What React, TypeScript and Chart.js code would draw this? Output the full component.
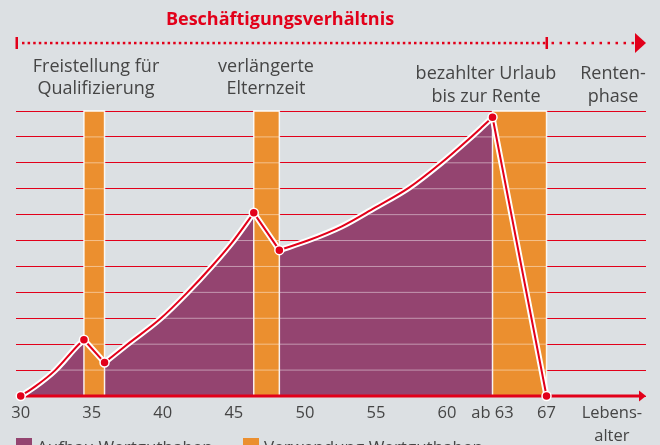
import React, { useEffect, useRef } from "react";
import { Chart, registerables } from "chart.js";

Chart.register(...registerables);

// ---------- data ----------
const title = "Beschäftigungsverhältnis";
const seriesNames = ["Aufbau Wertguthaben", "Verwendung Wertguthaben"];

// build-up phases of the credit (age, value in grid units)
const build1Ages = [30, 31.0, 32.4, 34.05, 34.45];
const build1Values = [0, 0.36, 0.98, 1.97, 2.17];
const build2Ages = [35.9, 37.45, 39.8, 41.7, 43.4, 44.95, 46.4];
const build2Values = [1.29, 1.97, 2.97, 3.98, 4.98, 5.98, 7.07];
const build3Ages = [48.2, 50.2, 52.6, 54.9, 57.3, 59.6, 61.5, 62.4, 63.2];
const build3Values = [5.63, 6.0, 6.55, 7.26, 8.03, 9.0, 9.9, 10.35, 10.76];
// payout to retirement
const retireAge = 67;
const retireValue = 0;

// periods of using the credit (orange columns)
const useStarts = [34.45, 46.4, 63.2];
const useEnds = [35.9, 48.2, 67];
const useTop = 11;

// x axis
const tickAges = [30, 35, 40, 45, 50, 55, 60, 63.2, 67, 71.6];
const tickLabels: (string | string[])[] = ["30", "35", "40", "45", "50", "55", "60", "ab 63", "67", ["Lebens-", "alter"]];
const employmentEndAge = 67;

// phase annotations
const phaseLabels = [
  ["Freistellung für", "Qualifizierung"],
  ["verlängerte", "Elternzeit"],
  ["bezahlter Urlaub", "bis zur Rente"],
  ["Renten-", "phase"],
];

// ---------- styles ----------
const RED = "#e2001a";
const PURPLE = "#944470";
const ORANGE = "#eb8f2f";
const BG = "#dce0e3";
const TEXT = "#454545";
const LIGHT = "rgba(255,255,255,0.45)";
const FONT = "'Open Sans', 'Noto Sans', sans-serif";
const PHASE_X = [96, 266, 486, 613];
const PHASE_Y = [[67, 89], [67, 89], [74, 97], [74, 97]];

const pts = (ages: number[], vals: number[]) => ages.map((a, i) => ({ x: a, y: vals[i] }));
const builds = [pts(build1Ages, build1Values), pts(build2Ages, build2Values), pts(build3Ages, build3Values)];
const first = (d: any[]) => d[0];
const last = (d: any[]) => d[d.length - 1];
const gap = (p: any) => ({ x: p.x, y: null });
// connectors between phases (straight drops while the credit is used) + markers
const connectorData: any[] = [
  first(builds[0]),
  gap(first(builds[0])),
  last(builds[0]),
  first(builds[1]),
  gap(first(builds[1])),
  last(builds[1]),
  first(builds[2]),
  gap(first(builds[2])),
  last(builds[2]),
  { x: retireAge, y: retireValue },
];

// where a rising build-up curve first reaches a grid level
function crossing(d: { x: number; y: number }[], v: number) {
  if (d[0].y >= v) return d[0].x;
  for (let i = 0; i < d.length - 1; i++) {
    if (d[i].y < v && d[i + 1].y >= v) return d[i].x + ((v - d[i].y) / (d[i + 1].y - d[i].y)) * (d[i + 1].x - d[i].x);
  }
  return null;
}

// the grid lines seen through the coloured areas, as gap-separated spans per grid level
function lightGridData(v: number) {
  const spans: number[][] = [];
  builds.forEach((d) => {
    const c = crossing(d, v);
    if (c !== null) spans.push([c, last(d).x]);
  });
  useStarts.forEach((s, i) => spans.push([s, useEnds[i]]));
  spans.sort((m, n) => m[0] - n[0]);
  const merged: number[][] = [];
  spans.forEach((r) => {
    const l = merged[merged.length - 1];
    if (l && r[0] <= l[1] + 1e-9) l[1] = Math.max(l[1], r[1]);
    else merged.push([r[0], r[1]]);
  });
  const out: any[] = [];
  merged.forEach((r) => {
    out.push({ x: r[0], y: v }, { x: r[1], y: v }, { x: r[1], y: null });
  });
  return out;
}

const AXIS_AFTER = 3; // last orange column drawn (same order -> drawn by descending index)

const decorPlugin = {
  id: "decor",
  beforeDraw(chart: any) {
    const { ctx, width, height } = chart;
    ctx.save();
    ctx.fillStyle = BG;
    ctx.fillRect(0, 0, width, height);
    ctx.restore();
  },
  afterDatasetDraw(chart: any, args: any) {
    if (args.index !== AXIS_AFTER) return;
    const { ctx, chartArea: a, scales } = chart;
    const base = scales.y.getPixelForValue(0);
    ctx.save();
    ctx.fillStyle = RED;
    ctx.fillRect(a.left, base - 1.5, a.right - a.left - 6, 3);
    ctx.beginPath();
    ctx.moveTo(a.right - 7, base - 5.5);
    ctx.lineTo(a.right, base);
    ctx.lineTo(a.right - 7, base + 5.5);
    ctx.closePath();
    ctx.fill();
    ctx.restore();
  },
  afterDraw(chart: any) {
    const { ctx, scales } = chart;
    const xs = scales.x;
    ctx.save();
    // title
    ctx.fillStyle = RED;
    ctx.font = `bold 18px ${FONT}`;
    ctx.textAlign = "center";
    ctx.textBaseline = "middle";
    ctx.fillText(title, 280, 20);
    // employment bar
    const y0 = 43;
    const xEnd = xs.getPixelForValue(employmentEndAge);
    ctx.fillRect(15.5, 37, 2.5, 12);
    ctx.fillRect(xEnd - 1, 37, 2.5, 12);
    for (let x = 22; x < xEnd - 3; x += 5.6) ctx.fillRect(x, y0 - 1.2, 2.5, 2.5);
    for (let x = xEnd + 5; x < 632; x += 8) ctx.fillRect(x, y0 - 1.2, 2.5, 2.5);
    ctx.beginPath();
    ctx.moveTo(635, 33);
    ctx.lineTo(646, 43);
    ctx.lineTo(635, 53);
    ctx.closePath();
    ctx.fill();
    // phase labels
    ctx.fillStyle = TEXT;
    ctx.font = `18px ${FONT}`;
    phaseLabels.forEach((lines, i) => {
      lines.forEach((t, j) => ctx.fillText(t, PHASE_X[i], PHASE_Y[i][j]));
    });
    // legend (partly cut off at bottom)
    ctx.textAlign = "left";
    ctx.textBaseline = "alphabetic";
    ctx.font = `17px ${FONT}`;
    const lx = [16, 243];
    const cols = [PURPLE, ORANGE];
    seriesNames.forEach((n, i) => {
      ctx.fillStyle = cols[i];
      ctx.fillRect(lx[i], 438, 16, 16);
      ctx.fillStyle = TEXT;
      ctx.fillText(n, lx[i] + 21, 453);
    });
    ctx.restore();
  },
};

export default function App() {
  const ref = useRef<HTMLCanvasElement | null>(null);
  useEffect(() => {
    if (!ref.current) return;
    Chart.defaults.font.family = FONT;
    const fillSets = builds.map((d) => ({
      label: seriesNames[0],
      data: d,
      borderWidth: 0,
      borderColor: "rgba(0,0,0,0)",
      backgroundColor: PURPLE,
      fill: "origin",
      pointRadius: 0,
      cubicInterpolationMode: "monotone",
      order: 5,
    }));
    const rectSets = useStarts.map((s, i) => ({
      label: seriesNames[1],
      data: [
        { x: s, y: 0 },
        { x: s, y: useTop },
        { x: useEnds[i], y: useTop },
        { x: useEnds[i], y: 0 },
      ],
      borderColor: "rgba(255,255,255,0.85)",
      borderWidth: 1.5,
      backgroundColor: ORANGE,
      fill: "origin",
      pointRadius: 0,
      tension: 0,
      order: 4,
      clip: false,
    }));
    const stroke = (d: any[], color: string, width: number, order: number, mono: boolean) => ({
      label: "stroke",
      data: d,
      borderColor: color,
      borderWidth: width,
      fill: false,
      pointRadius: 0,
      cubicInterpolationMode: mono ? "monotone" : "default",
      tension: 0,
      spanGaps: false,
      borderCapStyle: "round",
      borderJoinStyle: "round",
      order,
      clip: false,
    });
    const lightSets = [];
    for (let v = 1; v <= useTop; v++) {
      lightSets.push({ ...stroke(lightGridData(v), LIGHT, 1, 3.5, false), borderCapStyle: "butt" });
    }
    const outlineSets = [...builds.map((d) => stroke(d, "#ffffff", 6, 3, true)), stroke(connectorData, "#ffffff", 6, 3, false)];
    const redSets = builds.map((d) => stroke(d, RED, 2, 2, true));
    const markerSet = {
      ...stroke(connectorData, RED, 2, 1, false),
      pointRadius: 4.5,
      pointBackgroundColor: RED,
      pointBorderColor: "#ffffff",
      pointBorderWidth: 1.5,
    };
    const chart = new Chart(ref.current, {
      type: "line",
      data: { datasets: [...fillSets, ...rectSets, ...lightSets, ...outlineSets, ...redSets, markerSet] as any },
      options: {
        animation: false,
        responsive: false,
        events: [],
        layout: { padding: { left: 16, right: 14, top: 111, bottom: 0 } },
        plugins: { legend: { display: false }, tooltip: { enabled: false } },
        scales: {
          x: {
            type: "linear",
            min: 29.67,
            max: 74,
            grid: { display: false },
            border: { display: false },
            afterBuildTicks: (scale: any) => {
              scale.ticks = tickAges.map((v) => ({ value: v }));
            },
            afterFit: (scale: any) => {
              scale.height = 49;
            },
            ticks: {
              autoSkip: false,
              maxRotation: 0,
              padding: -2,
              color: TEXT,
              font: { size: 16.5, lineHeight: 1.4 },
              callback: (_v: any, i: number) => tickLabels[i],
            },
          },
          y: {
            min: 0,
            max: useTop,
            afterFit: (scale: any) => {
              scale.width = 0;
            },
            ticks: { display: false, stepSize: 1 },
            grid: { color: RED, lineWidth: 1, drawTicks: false },
            border: { display: false },
          },
        },
      } as any,
      plugins: [decorPlugin],
    });
    return () => chart.destroy();
  }, []);
  return (
    <div style={{ position: "fixed", left: 0, top: 0, width: 660, height: 445, overflow: "hidden", background: BG }}>
      <canvas ref={ref} width={660} height={445} style={{ display: "block" }} />
    </div>
  );
}
